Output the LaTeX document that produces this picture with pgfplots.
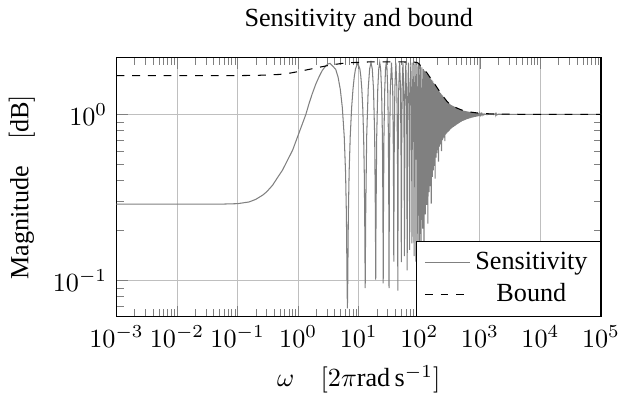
\documentclass[border=0pt]{standalone}
\usepackage{fontspec}
\setmainfont{Liberation Serif}
\usepackage{pgfplots}
\usepackage{pgfplotstable}
\pgfplotsset{compat=1.18}
\pgfplotstableread{
w S
0.001 0.288
0.01 0.288
0.05 0.288
0.1 0.290
0.155 0.297
0.2 0.308
0.258 0.326
0.3 0.341
0.377 0.374
0.45 0.413
0.55 0.461
0.65 0.52
0.81 0.609
1.0 0.75
1.15 0.86
1.34 1.0
1.52 1.17
1.72 1.34
1.95 1.52
2.22 1.69
2.5 1.84
2.86 1.96
3.1 2.01
3.36 2.03
4.16 1.870
4.56 1.676
4.96 1.415
5.36 1.097
5.76 0.736
6.06 0.446
6.26 0.246
6.41 0.098
6.50 0.068
6.59 0.100
6.74 0.249
6.94 0.448
7.24 0.740
7.64 1.103
8.04 1.422
8.44 1.684
8.84 1.879
9.64 2.04
10.44 1.879
10.84 1.684
11.24 1.422
11.64 1.103
12.04 0.740
12.34 0.448
12.54 0.249
12.78 0.090
13.03 0.249
13.53 0.740
14.33 1.422
15.13 1.879
15.93 2.05
16.73 1.879
17.53 1.422
18.33 0.740
18.83 0.249
19.07 0.101
19.31 0.249
19.81 0.740
20.61 1.422
21.41 1.879
22.21 2.05
23.01 1.879
23.81 1.422
24.61 0.740
25.11 0.249
25.35 0.096
25.59 0.249
26.09 0.740
26.89 1.422
27.69 1.879
28.49 2.05
29.29 1.879
30.09 1.422
30.89 0.740
31.39 0.249
31.63 0.090
32.18 0.547
33.18 1.422
34.78 2.05
36.38 1.422
37.38 0.547
37.92 0.130
38.46 0.547
39.46 1.422
41.06 2.05
42.66 1.422
43.66 0.547
44.20 0.087
44.74 0.547
45.74 1.422
47.34 2.05
48.94 1.422
49.94 0.547
50.48 0.129
51.03 0.547
52.03 1.422
53.63 2.05
55.23 1.422
56.23 0.547
56.77 0.140
57.91 1.10
59.91 2.05
61.91 1.10
63.05 0.115
64.19 1.10
66.19 2.05
68.19 1.10
69.33 0.153
70.48 1.10
72.48 2.05
74.48 1.10
75.62 0.167
76.76 1.10
78.76 2.05
80.76 1.10
81.90 0.140
83.04 1.10
85.04 2.05
87.04 1.10
88.18 0.130
89.33 1.10
91.33 2.05
93.33 1.10
94.47 0.150
97.61 2.02
100.75 0.16
103.89 1.97
107.03 0.15
110.17 1.92
113.31 0.205
116.46 1.875
119.60 0.14
122.74 1.835
125.88 0.25
129.02 1.80
132.16 0.285
135.31 1.76
138.45 0.22
141.59 1.72
144.73 0.34
147.87 1.685
151.01 0.37
154.16 1.65
157.30 0.29
160.44 1.615
163.58 0.42
166.72 1.58
169.86 0.46
173.01 1.545
176.15 0.49
179.29 1.515
182.43 0.41
185.57 1.49
188.71 0.55
191.86 1.46
195.00 0.585
198.14 1.435
201.28 0.61
204.42 1.415
207.56 0.52
210.71 1.39
213.85 0.64
216.99 1.365
220.13 0.66
223.27 1.345
226.41 0.675
229.56 1.33
232.70 0.60
235.84 1.31
238.98 0.70
242.12 1.295
245.26 0.71
248.41 1.275
251.55 0.725
254.69 1.26
257.83 0.735
260.97 1.248
264.11 0.69
267.25 1.235
270.39 0.755
273.54 1.22
276.68 0.765
279.82 1.207
282.96 0.77
286.10 1.195
289.24 0.78
292.39 1.185
295.53 0.785
298.67 1.177
301.81 0.79
304.95 1.17
308.09 0.795
311.24 1.162
314.38 0.80
317.52 1.155
320.66 0.81
323.80 1.148
326.94 0.815
330.09 1.14
333.23 0.82
336.37 1.136
339.51 0.825
342.65 1.132
345.79 0.83
348.94 1.128
352.08 0.835
355.22 1.124
358.36 0.838
361.50 1.12
364.64 0.842
367.79 1.116
370.93 0.846
374.07 1.113
377.21 0.85
380.35 1.11
383.49 0.853
386.64 1.107
389.78 0.857
392.92 1.104
396.06 0.86
399.20 1.101
402.34 0.865
405.48 1.098
408.62 0.868
411.77 1.095
414.91 0.871
418.05 1.092
421.19 0.874
424.33 1.088
427.47 0.877
430.62 1.086
433.76 0.88
436.90 1.084
440.04 0.883
443.18 1.081
446.32 0.886
449.47 1.079
452.61 0.889
455.75 1.077
458.89 0.892
462.03 1.074
465.17 0.895
468.32 1.072
471.46 0.898
474.60 1.07
477.74 0.90
480.88 1.068
484.02 0.903
487.17 1.065
490.31 0.905
493.45 1.063
496.59 0.907
499.73 1.061
502.87 0.91
512.3 1.057
518.6 0.915
524.9 1.054
531.2 0.918
537.4 1.052
543.7 0.921
550.0 1.050
556.3 0.924
562.6 1.048
568.9 0.927
575.1 1.046
581.4 0.930
587.7 1.045
594.0 0.933
600.3 1.043
606.6 0.936
612.8 1.042
619.1 0.939
625.4 1.040
631.7 0.941
638.0 1.038
644.3 0.943
650.5 1.037
656.8 0.945
663.1 1.035
669.4 0.947
675.7 1.034
682.0 0.949
688.2 1.032
694.5 0.951
700.8 1.031
707.1 0.953
713.4 1.030
719.7 0.955
725.9 1.029
732.2 0.957
738.5 1.028
744.8 0.958
751.1 1.027
757.4 0.960
763.6 1.026
769.9 0.961
776.2 1.025
782.5 0.962
788.8 1.024
795.1 0.963
801.3 1.024
807.6 0.965
813.9 1.023
820.2 0.966
826.5 1.022
832.8 0.967
839.0 1.022
845.3 0.968
851.6 1.021
857.9 0.969
864.2 1.020
870.5 0.970
876.7 1.020
883.0 0.971
889.3 1.019
895.6 0.972
901.9 1.018
908.2 0.973
914.4 1.018
920.7 0.974
927.0 1.017
933.3 0.975
939.6 1.017
945.9 0.976
952.1 1.016
958.4 0.977
964.7 1.016
971.0 0.977
977.3 1.015
983.6 0.978
989.8 1.015
996.1 0.979
1002.4 1.015
1030 0.985
1060 1.012
1090 0.988
1120 1.009
1160 0.992
1200 1.006
1300 0.996
1450 1.003
1700 0.998
1800 1.012
1830 0.988
1860 1.010
1900 0.992
2000 1.002
3000 1.000
100000 1.000
}\senstab
\pgfplotstableread{
w B
0.001 1.71
0.05 1.71
0.1 1.712
0.23 1.72
0.49 1.74
0.75 1.775
1.0 1.81
1.5 1.865
2.2 1.92
3.6 1.99
5.5 2.03
7.8 2.05
15 2.07
46 2.07
80 2.065
92 2.055
100 2.01
106 1.95
113 1.90
120 1.86
135 1.77
154 1.65
174 1.55
200 1.435
225 1.345
255 1.265
288 1.195
330 1.142
380 1.11
425 1.089
485 1.067
550 1.052
620 1.042
710 1.032
850 1.023
1000 1.016
1500 1.007
2000 1.004
5000 1.001
100000 1.0
}\boundtab
\begin{document}
\begin{tikzpicture}
\begin{axis}[
  xmode=log, ymode=log,
  scale only axis,
  width=185pt, height=99pt,
  xmin=1e-3, xmax=1e5, ymin=0.0604, ymax=2.2,
  grid=major,
  xticklabel style={inner xsep=0pt},
  title={Sensitivity and bound},
  xlabel={$\omega\quad[2\pi\mathrm{rad}\,\mathrm{s}^{-1}]$},
  ylabel={Magnitude\quad$[\mathrm{dB}]$},
  legend style={at={(1,0)}, anchor=south east, cells={anchor=center}},
]
\addplot[gray] table[x=w, y=S] {\senstab};
\addlegendentry{Sensitivity}
\addplot[black, dashed] table[x=w, y=B] {\boundtab};
\addlegendentry{Bound}
\end{axis}
\end{tikzpicture}
\end{document}
